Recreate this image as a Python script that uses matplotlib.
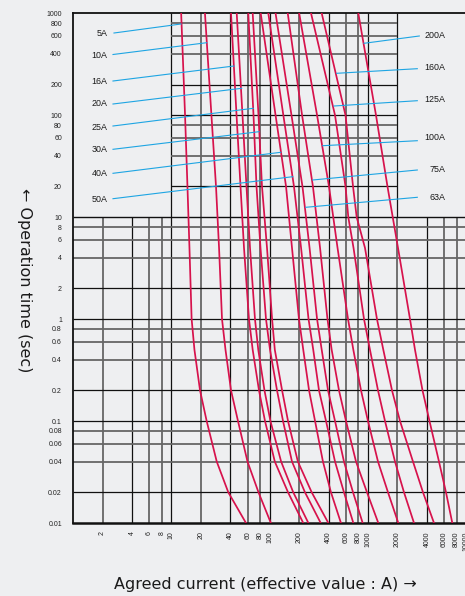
import matplotlib
matplotlib.use("Agg")
import matplotlib.pyplot as plt
import numpy as np
from matplotlib.lines import Line2D

# ---------------- data ----------------
ratings = ["5A", "10A", "16A", "20A", "25A", "30A", "40A", "50A",
           "63A", "75A", "100A", "125A", "160A", "200A"]

# operation time (s) at which each curve was read
time_std = [1000, 100, 20, 5, 1, 0.5, 0.2, 0.1, 0.04, 0.02, 0.01]
time_knee = [1000, 100, 20, 10, 5, 1, 0.5, 0.2, 0.1, 0.04, 0.02, 0.01]

cur_5A = [12.6, 13.8, 14.6, 15.3, 16.1, 17.2, 19.6, 22.9, 29.0, 38.0, 57.5]
cur_10A = [22.0, 25.6, 28.5, 30.6, 32.8, 35.6, 40.5, 47.7, 59.6, 77.1, 103]
cur_16A = [40.5, 46.1, 50.6, 54.9, 61.7, 67.3, 78.0, 89.8, 113, 154, 220]
cur_20A = [46.3, 53.0, 58.2, 63.2, 71.0, 76.7, 88.7, 102, 131, 174, 248]
cur_25A = [60.7, 68.6, 73.6, 80.8, 91.9, 101, 119, 137, 169, 229, 331]
cur_30A = [67.3, 77.1, 83.7, 94.1, 106, 113, 134, 154, 194, 268, 396]
cur_40A = [81.2, 115, 147, 169, 199, 220, 252, 290, 349, 421, 532]
cur_50A = [97.0, 138, 177, 209, 249, 278, 318, 375, 463, 571, 711]
cur_63A = [115, 167, 216, 255, 304, 339, 393, 463, 571, 706, 885]
cur_75A = [153, 214, 276, 326, 388, 428, 508, 599, 757, 979, 1276]
cur_100A = [200, 304, 402, 491, 628, 711, 851, 1002, 1267, 1601, 2039]
cur_125A = [264, 463, 592, 632, 714, 913, 1050, 1267, 1493, 1887, 2329, 2944]
cur_160A = [339, 592, 706, 769, 934, 1237, 1435, 1759, 2122, 2876, 3635, 4703]
cur_200A = [799, 1209, 1582, 2024, 2681, 3014, 3594, 4233, 5288, 6229, 7222]

curves = {
    "5A": (cur_5A, time_std), "10A": (cur_10A, time_std),
    "16A": (cur_16A, time_std), "20A": (cur_20A, time_std),
    "25A": (cur_25A, time_std), "30A": (cur_30A, time_std),
    "40A": (cur_40A, time_std), "50A": (cur_50A, time_std),
    "63A": (cur_63A, time_std), "75A": (cur_75A, time_std),
    "100A": (cur_100A, time_std), "125A": (cur_125A, time_knee),
    "160A": (cur_160A, time_knee), "200A": (cur_200A, time_std),
}

x_ticks = [2, 4, 6, 8, 10, 20, 40, 60, 80, 100, 200, 400, 600, 800,
           1000, 2000, 4000, 6000, 8000, 10000]
x_tick_labels = [str(v) for v in x_ticks]
y_ticks = [0.01, 0.02, 0.04, 0.06, 0.08, 0.1, 0.2, 0.4, 0.6, 0.8, 1, 2, 4, 6, 8,
           10, 20, 40, 60, 80, 100, 200, 400, 600, 800, 1000]
y_tick_labels = ["0.01", "0.02", "0.04", "0.06", "0.08", "0.1", "0.2", "0.4",
                 "0.6", "0.8", "1", "2", "4", "6", "8", "10", "20", "40", "60",
                 "80", "100", "200", "400", "600", "800", "1000"]

# ---------------- layout / style ----------------
W, H = 465, 596
BG = "#eeeff1"
RED = "#d7124c"
BLUE = "#1ea5e3"
BLACK = "#111111"
GRAY = "#666666"

fig = plt.figure(figsize=(W / 100, H / 100), dpi=100, facecolor=BG)
px0, px1 = 73.0, 73.0 + 4 * 98.3
py_top, py_bot = 13.3, 523.0
ax = fig.add_axes([px0 / W, 1 - py_bot / H, (px1 - px0) / W, (py_bot - py_top) / H])
ax.set_facecolor(BG)
ax.set_xscale("log")
ax.set_yscale("log")
ax.set_xlim(1, 10000)
ax.set_ylim(0.01, 1000)


def mant(v):
    return int(round(v / 10 ** np.floor(np.log10(v) + 1e-9)))


def vstyle(v):
    return (BLACK, 0.9) if mant(v) in (1, 4) else (GRAY, 1.3)


def hstyle(v):
    return (BLACK, 0.9) if mant(v) in (1, 2) else (GRAY, 1.3)


# upper (sparse) grid block: 10 .. 2000 A, 10 .. 1000 s
top_v = [10, 20, 40, 60, 80, 100, 200, 400, 600, 800, 1000, 2000]
top_h = [20, 40, 60, 80, 100, 200, 400, 600, 800]
for v in top_v:
    c, lw = vstyle(v)
    if v == 2000:
        c, lw = BLACK, 0.9
    ax.vlines(v, 10, 1000, colors=c, lw=lw, zorder=1)
for v in top_h:
    c, lw = hstyle(v)
    ax.hlines(v, 10, 2000, colors=c, lw=lw, zorder=1)

# lower (full) grid block
low_v = [2, 4, 6, 8, 10, 20, 40, 60, 80, 100, 200, 400, 600, 800, 1000,
         2000, 4000, 6000, 8000]
low_h = [0.02, 0.04, 0.06, 0.08, 0.1, 0.2, 0.4, 0.6, 0.8, 1, 2, 4, 6, 8]
for v in low_v:
    c, lw = vstyle(v)
    ax.vlines(v, 0.01, 10, colors=c, lw=lw, zorder=1)
for v in low_h:
    c, lw = hstyle(v)
    ax.hlines(v, 1, 10000, colors=c, lw=lw, zorder=1)
ax.hlines(10, 1, 10000, colors=BLACK, lw=1.0, zorder=1)

for s in ("left", "top", "bottom"):
    ax.spines[s].set_color(BLACK)
ax.spines["left"].set_linewidth(1.3)
ax.spines["top"].set_linewidth(1.3)
ax.spines["bottom"].set_linewidth(1.8)
ax.spines["right"].set_visible(False)

# curves
for name in ratings:
    cur, tm = curves[name]
    ax.plot(cur, tm, color=RED, lw=1.25, zorder=3, solid_joinstyle="round")

# ticks
ax.set_xticks(x_ticks)
ax.set_xticklabels(x_tick_labels, rotation=90, fontsize=5,
                   family="Liberation Sans", va="top", ha="center")
ax.set_yticks(y_ticks)
ax.set_yticklabels(y_tick_labels, fontsize=5, family="Liberation Sans")
ax.minorticks_off()
ax.tick_params(axis="x", length=0, pad=6, colors="#222222")
ax.tick_params(axis="y", length=0, pad=8, colors="#222222")

# ---------------- curve labels with leader lines (figure pixels) ----------------
def fxy(x, y):
    return x / W, 1 - y / H


left_labels = [("5A", 33, (114, 33), (181, 24)),
               ("10A", 55, (113, 54.5), (206.7, 42.7)),
               ("16A", 81, (113, 81), (234, 66)),
               ("20A", 104, (113, 104), (241.7, 88.3)),
               ("25A", 127, (113, 126), (253.3, 108.3)),
               ("30A", 150, (113, 149.3), (259, 131.7)),
               ("40A", 174, (113, 173.3), (280.7, 152.3)),
               ("50A", 200, (113, 198.7), (292.7, 176.7))]
right_labels = [("200A", 36, (364, 43.3), (419.3, 36)),
                ("160A", 67, (336.7, 73.3), (417.3, 68.7)),
                ("125A", 100, (334, 106), (417.3, 100.7)),
                ("100A", 138, (322.7, 145.7), (417.3, 140.7)),
                ("75A", 170, (312.7, 180), (417.3, 170)),
                ("63A", 197, (305.7, 207.3), (417.3, 197.3))]

for name, ty, p0, p1 in left_labels:
    fig.text(*fxy(107.5, ty), name, ha="right", va="center", fontsize=6.4,
             family="Liberation Sans", color="#1a1a1a")
    (a, b), (c, d) = fxy(*p0), fxy(*p1)
    fig.add_artist(Line2D([a, c], [b, d], color=BLUE, lw=0.8, zorder=2))
for name, ty, p0, p1 in right_labels:
    fig.text(*fxy(445, ty), name, ha="right", va="center", fontsize=6.4,
             family="Liberation Sans", color="#1a1a1a")
    (a, b), (c, d) = fxy(*p0), fxy(*p1)
    fig.add_artist(Line2D([a, c], [b, d], color=BLUE, lw=0.8, zorder=2))

# axis titles
fig.text(*fxy(265, 584), "Agreed current (effective value : A) \u2192",
         ha="center", va="center", fontsize=11.5, family="DejaVu Sans",
         color="#1a1a1a")
fig.text(*fxy(24, 280), "\u2190 Operation time (sec)", rotation=-90,
         ha="center", va="center", fontsize=11.5, family="DejaVu Sans",
         color="#1a1a1a")

fig.savefig("out.png", dpi=100, facecolor=BG)
